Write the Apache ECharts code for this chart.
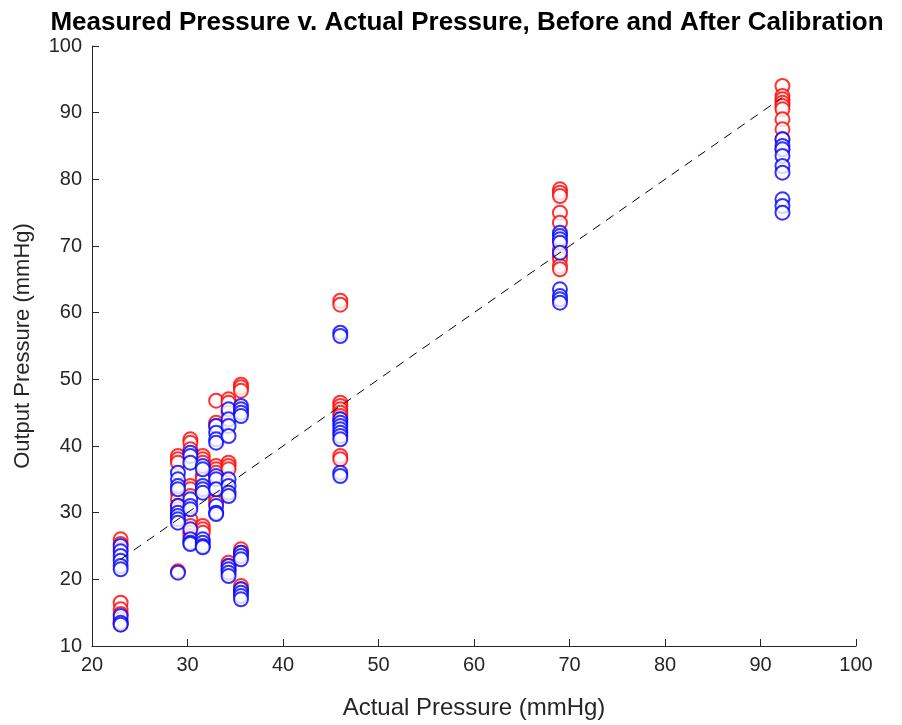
<!DOCTYPE html>
<html>
<head>
<meta charset="utf-8">
<script src="https://cdn.jsdelivr.net/npm/echarts@6/dist/echarts.min.js"></script>
<style>
html,body{margin:0;padding:0;background:#fff;}
#chart{width:902px;height:725px;}
</style>
</head>
<body>
<div id="chart"></div>
<script>
// Actual pressure positions (mmHg) and output pressures
const xTicks = [20, 30, 40, 50, 60, 70, 80, 90, 100];
const yTicks = [10, 20, 30, 40, 50, 60, 70, 80, 90, 100];

const redY23 = [26, 25.3, 24.5, 16.5, 15.5, 14.8, 14, 13.3];
const blueY23 = [25, 24.2, 23.5, 22.8, 22, 21.5, 14.5, 13.5, 13.2];

const redY29 = [38.5, 38, 37.5, 33, 32, 31, 30.5, 29.5, 21.2];
const blueY29 = [36, 35, 34, 33.5, 31, 30, 29.5, 29, 28.5, 21];

const redY303 = [41, 40.5, 39.5, 34, 33.5, 32.5, 29, 28, 27, 26.5];
const blueY303 = [39, 38.5, 37.5, 32, 31, 30.5, 27.5, 26, 25.5, 25.3];

const redY316 = [38.5, 38, 37.5, 35.5, 35, 28, 27.5, 27];
const blueY316 = [37, 36.5, 34, 33.5, 33, 26, 25.5, 25, 24.8];

const redY33 = [46.8, 43.5, 43, 37, 36.5, 36, 32, 31.5];
const blueY33 = [43, 42, 41, 40.5, 35.5, 35, 33.5, 31, 30, 29.8];

const redY343 = [47, 46.5, 45, 37.5, 37, 36.5, 22.5, 22, 21.5];
const blueY343 = [45.5, 44, 43, 41.5, 35, 34, 33, 32.5, 22, 21.5, 21, 20.5];

const redY356 = [49.2, 48.8, 48.3, 24.5, 24, 19, 18.5];
const blueY356 = [46, 45.5, 45, 44.5, 24, 23.5, 23, 18.5, 18, 17.5, 17];

const redY46 = [61.8, 61.2, 46.5, 46, 45.5, 45, 44.5, 44, 38.5, 38];
const blueY46 = [57, 56.5, 44, 43.5, 43, 42.5, 42, 41.5, 41, 36, 35.5];

const redY69 = [78.5, 78, 77.5, 75, 73.5, 69.5, 68.5, 68, 67, 66.5];
const blueY69 = [72, 71.5, 71, 70.5, 69, 63.5, 62.5, 62, 61.5];

const redY92 = [94, 92.5, 92, 91.5, 91, 90.5, 89, 87.5, 86, 84.5];
const blueY92 = [86, 85, 84.5, 83.5, 82, 81, 77, 76, 75];

const actualX = [23, 29, 30.3, 31.6, 33, 34.3, 35.6, 46, 69, 92.3];
const redGroups  = [redY23, redY29, redY303, redY316, redY33, redY343, redY356, redY46, redY69, redY92];
const blueGroups = [blueY23, blueY29, blueY303, blueY316, blueY33, blueY343, blueY356, blueY46, blueY69, blueY92];

const refLineX = [23, 92.3];

function pairs(groups) {
  const out = [];
  groups.forEach((g, i) => g.forEach(v => out.push([actualX[i], v])));
  return out;
}

const font = '"Liberation Sans", Arial, Helvetica, sans-serif';
const textColor = '#262626';

const chart = echarts.init(document.getElementById('chart'), null, {renderer: 'canvas'});
chart.setOption({
  animation: false,
  backgroundColor: '#ffffff',
  title: {
    text: 'Measured Pressure v. Actual Pressure, Before and After Calibration',
    left: 462, textAlign: 'center', top: 5,
    textStyle: {fontFamily: font, fontSize: 26, fontWeight: 'bold', color: '#000'}
  },
  grid: {left: 92, right: 46, top: 46, bottom: 77, containLabel: false},
  xAxis: {
    type: 'value', min: 20, max: 100, interval: 10,
    name: 'Actual Pressure (mmHg)', nameLocation: 'middle', nameGap: 50,
    nameTextStyle: {fontFamily: font, fontSize: 24, color: textColor},
    axisLine: {show: true, onZero: false, lineStyle: {color: textColor, width: 1}},
    axisTick: {show: true, inside: true, length: 7, lineStyle: {color: textColor}},
    axisLabel: {fontFamily: font, fontSize: 20, color: textColor, margin: 9},
    splitLine: {show: false}
  },
  yAxis: {
    type: 'value', min: 10, max: 100, interval: 10,
    name: 'Output Pressure (mmHg)', nameLocation: 'middle', nameGap: 58,
    nameTextStyle: {fontFamily: font, fontSize: 22, color: textColor},
    axisLine: {show: true, onZero: false, lineStyle: {color: textColor, width: 1}},
    axisTick: {show: true, inside: true, length: 7, lineStyle: {color: textColor}},
    axisLabel: {fontFamily: font, fontSize: 20, color: textColor, margin: 10},
    splitLine: {show: false}
  },
  series: [
    {
      type: 'scatter', name: 'Before', symbol: 'emptyCircle', symbolSize: 14,
      itemStyle: {color: '#ff0000', borderColor: '#ff0000', borderWidth: 1.8},
      data: pairs(redGroups), z: 2
    },
    {
      type: 'scatter', name: 'After', symbol: 'emptyCircle', symbolSize: 14,
      itemStyle: {color: '#0000ff', borderColor: '#0000ff', borderWidth: 1.8},
      data: pairs(blueGroups), z: 3
    },
    {
      type: 'line', name: 'Ideal', symbol: 'none',
      data: refLineX.map(v => [v, v]),
      lineStyle: {color: '#000', width: 1, type: [9, 7]}, z: 4
    }
  ]
});
</script>
</body>
</html>
